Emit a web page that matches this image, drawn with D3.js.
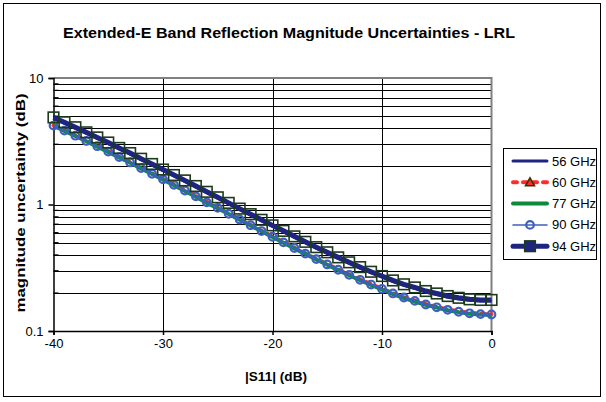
<!DOCTYPE html>
<html><head><meta charset="utf-8">
<script src="https://cdn.jsdelivr.net/npm/d3@7"></script>
<style>body{margin:0;background:#fff}svg{display:block}text{font-family:"Liberation Sans",Arial,sans-serif}</style>
</head><body>
<svg id="c" width="606" height="402"></svg>
<script>
const xVals = [-40,-39,-38,-37,-36,-35,-34,-33,-32,-31,-30,-29,-28,-27,-26,-25,-24,-23,-22,-21,-20,-19,-18,-17,-16,-15,-14,-13,-12,-11,-10,-9,-8,-7,-6,-5,-4,-3,-2,-1,0];
const ghz56 = [4.78,4.38,4.00,3.65,3.33,3.03,2.75,2.50,2.26,2.05,1.85,1.68,1.52,1.37,1.24,1.12,1.01,0.910,0.823,0.742,0.671,0.607,0.549,0.497,0.451,0.411,0.375,0.342,0.314,0.288,0.267,0.246,0.230,0.217,0.203,0.194,0.185,0.179,0.175,0.173,0.173];
const ghz60 = [4.22,3.85,3.51,3.19,2.90,2.63,2.38,2.16,1.95,1.76,1.59,1.44,1.30,1.17,1.05,0.945,0.850,0.765,0.690,0.620,0.559,0.505,0.455,0.411,0.372,0.338,0.307,0.280,0.256,0.235,0.216,0.199,0.185,0.174,0.163,0.155,0.148,0.143,0.139,0.137,0.136];
const ghz77 = [4.19,3.82,3.48,3.16,2.87,2.60,2.36,2.14,1.93,1.74,1.57,1.42,1.28,1.15,1.03,0.935,0.840,0.757,0.682,0.614,0.553,0.499,0.450,0.407,0.368,0.334,0.303,0.276,0.252,0.231,0.213,0.196,0.182,0.171,0.161,0.153,0.146,0.141,0.137,0.135,0.134];
const ghz90 = [4.21,3.84,3.50,3.18,2.89,2.62,2.37,2.15,1.94,1.75,1.58,1.43,1.29,1.16,1.04,0.940,0.845,0.761,0.686,0.617,0.556,0.502,0.453,0.409,0.370,0.336,0.305,0.278,0.254,0.233,0.215,0.198,0.184,0.173,0.162,0.154,0.147,0.142,0.138,0.136,0.135];
const ghz94 = [4.88,4.47,4.08,3.72,3.39,3.09,2.80,2.55,2.30,2.09,1.89,1.71,1.55,1.40,1.26,1.14,1.03,0.928,0.839,0.757,0.684,0.619,0.560,0.507,0.460,0.419,0.382,0.349,0.320,0.294,0.272,0.251,0.234,0.221,0.207,0.198,0.189,0.183,0.178,0.176,0.176];
const seriesNames = ["56 GHz","60 GHz","77 GHz","90 GHz","94 GHz"];
const xTicks = [-40,-30,-20,-10,0];
const yTicks = [0.1,1,10];
const titleText = "Extended-E Band Reflection Magnitude Uncertainties - LRL";
const xTitle = "|S11| (dB)";
const yTitle = "magnitude uncertainty (dB)";

const styles = [
  {color:"#1e2480", width:3, dash:null, marker:null},
  {color:"#ff2a2a", width:4, dash:"4,6", marker:"triangle"},
  {color:"#0a8a3c", width:4, dash:null, marker:null},
  {color:"#3f5fc0", width:1.5, dash:null, marker:"circle"},
  {color:"#1e2480", width:5, dash:null, marker:"square"}
];
const data = [ghz56, ghz60, ghz77, ghz90, ghz94];

const svg = d3.select("#c");
const L = 53.5, R = 491.5, T = 78, B = 331;
const x = d3.scaleLinear().domain([-40,0]).range([L,R]);
const y = d3.scaleLog().domain([0.1,10]).range([B,T]);

svg.append("rect").attr("x",3.5).attr("y",3.5).attr("width",597).attr("height",393)
  .attr("fill","#fff").attr("stroke","#000").attr("stroke-width",1);

svg.append("text").attr("x",289).attr("y",38).attr("text-anchor","middle")
  .attr("font-size",14.5).attr("font-weight","bold")
  .attr("textLength",452).attr("lengthAdjust","spacingAndGlyphs").text(titleText);

// gridlines
const grid = [];
[0.1,1].forEach(d => { for (let k=2;k<=9;k++) grid.push(d*k); });
grid.push(1);
const g = svg.append("g");
g.selectAll("line.h").data(grid).join("line")
  .attr("x1",L).attr("x2",R).attr("y1",d=>Math.round(y(d))+0.5).attr("y2",d=>Math.round(y(d))+0.5)
  .attr("stroke","#000").attr("stroke-width",1);
g.selectAll("line.v").data(xTicks.slice(1,-1)).join("line")
  .attr("x1",d=>Math.round(x(d))+0.5).attr("x2",d=>Math.round(x(d))+0.5).attr("y1",T).attr("y2",B)
  .attr("stroke","#000").attr("stroke-width",1);
svg.append("path").attr("d",`M${L},${T}H${R}V${B}`).attr("fill","none").attr("stroke","#808080").attr("stroke-width",2);

// axes
const yAxis = d3.axisLeft(y).tickValues(yTicks).tickFormat(d=>String(d)).tickSize(5).tickPadding(5);
const ya = svg.append("g").attr("transform",`translate(${L},0)`).call(yAxis);
const xAxis = d3.axisBottom(x).tickValues(xTicks).tickFormat(d3.format("d")).tickSize(4).tickPadding(4);
const xa = svg.append("g").attr("transform",`translate(0,${B})`).call(xAxis);
[ya,xa].forEach(a=>{
  a.select(".domain").attr("stroke","#000").attr("stroke-width",1.5);
  a.selectAll(".tick line").attr("stroke","#000").attr("stroke-width",1.5);
  a.selectAll("text").attr("font-size",13).attr("fill","#000").attr("font-family","Liberation Sans, Arial, sans-serif");
});
xa.selectAll(".tick text").text(d=> d<0 ? "-"+Math.abs(d) : String(d));
svg.append("g").selectAll("line").data(grid.filter(d=>d!==1)).join("line")
  .attr("x1",L).attr("x2",L+5).attr("y1",d=>y(d)).attr("y2",d=>y(d)).attr("stroke","#000");

svg.append("text").attr("transform",`translate(25,203) rotate(-90)`).attr("text-anchor","middle")
  .attr("font-size",13.5).attr("font-weight","bold")
  .attr("textLength",219).attr("lengthAdjust","spacingAndGlyphs").text(yTitle);
svg.append("text").attr("x",276).attr("y",381).attr("text-anchor","middle")
  .attr("font-size",13.5).attr("font-weight","bold")
  .attr("textLength",62).attr("lengthAdjust","spacingAndGlyphs").text(xTitle);

// series
const line = d3.line().x((d,i)=>x(xVals[i])).y(d=>y(d));
const sg = svg.append("g");
function drawMarker(sel, type, cx, cy, legend){
  if (type==="circle") sel.append("circle").attr("cx",cx).attr("cy",cy).attr("r",3.8)
    .attr("fill","none").attr("stroke","#3f5fc0").attr("stroke-width",2.2);
  else if (type==="square") sel.append("rect").attr("x",cx-5.3).attr("y",cy-5.3).attr("width",10.6).attr("height",10.6)
    .attr("fill",legend?"#1e2480":"none").attr("stroke","#1c3a1c").attr("stroke-width",1.6);
  else if (type==="triangle") sel.append("path").attr("d",`M${cx},${cy-4.5}L${cx+4.5},${cy+3.5}L${cx-4.5},${cy+3.5}Z`)
    .attr("fill","#ff2a2a").attr("stroke","#333300").attr("stroke-width",1.5);
}
data.forEach((vals,si)=>{
  const s = styles[si];
  sg.append("path").datum(vals).attr("d",line).attr("fill","none").attr("stroke",s.color)
    .attr("stroke-width",s.width).attr("stroke-dasharray",s.dash).attr("stroke-linecap",s.dash?"round":"butt");
});
// in the plot, the 60 GHz triangles are hidden under the other series; only circles and squares show
[3,4].forEach(si=>{
  const s = styles[si];
  const mg = sg.append("g");
  data[si].forEach((v,i)=>drawMarker(mg, s.marker, x(xVals[i]), y(v), false));
});

// legend
const lg = svg.append("g");
lg.append("rect").attr("x",503.5).attr("y",148.5).attr("width",93).attr("height",111)
  .attr("fill","#fff").attr("stroke","#000").attr("stroke-width",1);
seriesNames.forEach((n,i)=>{
  const s = styles[i]; const cy = 161 + i*21.3;
  lg.append("line").attr("x1",513).attr("x2",547).attr("y1",cy).attr("y2",cy).attr("stroke",s.color)
    .attr("stroke-width",s.width).attr("stroke-dasharray",s.dash).attr("stroke-linecap","round");
  if (s.marker) drawMarker(lg, s.marker, 530, cy, true);
  lg.append("text").attr("x",552).attr("y",cy+4.5).attr("font-size",13).text(n);
});
</script>
</body></html>
